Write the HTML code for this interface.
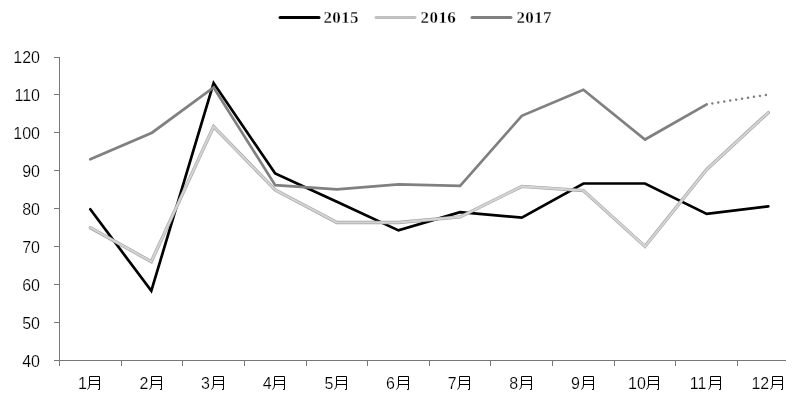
<!DOCTYPE html>
<html><head><meta charset="utf-8"><title>chart</title>
<style>
html,body{margin:0;padding:0;background:#fff;}
body{width:798px;height:406px;overflow:hidden;}
svg{display:block;will-change:transform;}
text{font-family:"Liberation Sans",sans-serif;fill:#000;stroke:#fff;stroke-width:0.18px;}
.ax{font-size:16px;}
.lg{font-family:"Liberation Serif",serif;font-weight:bold;font-size:17px;letter-spacing:0.4px;stroke-width:0.32px;}
</style></head><body>
<svg width="798" height="406" viewBox="0 0 798 406">
<defs>
<g id="yue" fill="none" stroke="#000" stroke-width="1" stroke-linecap="butt" stroke-linejoin="miter">
<path d="M2.5,0.5 H12.5 V13.5 H11 M2.5,0.5 V9 Q2.5,12 0.5,13.5 M2.5,4.5 H12.5 M2.5,8.5 H12.5"/>
</g>
</defs>

<g stroke="#777" stroke-width="1" fill="none" shape-rendering="crispEdges">
<line x1="59.5" y1="57" x2="59.5" y2="366"/>
<line x1="54" y1="360.5" x2="786" y2="360.5"/>
<line x1="54" y1="57.5" x2="60" y2="57.5"/>
<line x1="54" y1="94.5" x2="60" y2="94.5"/>
<line x1="54" y1="132.5" x2="60" y2="132.5"/>
<line x1="54" y1="170.5" x2="60" y2="170.5"/>
<line x1="54" y1="208.5" x2="60" y2="208.5"/>
<line x1="54" y1="246.5" x2="60" y2="246.5"/>
<line x1="54" y1="284.5" x2="60" y2="284.5"/>
<line x1="54" y1="322.5" x2="60" y2="322.5"/>
<line x1="121.5" y1="360" x2="121.5" y2="366"/>
<line x1="182.5" y1="360" x2="182.5" y2="366"/>
<line x1="244.5" y1="360" x2="244.5" y2="366"/>
<line x1="306.5" y1="360" x2="306.5" y2="366"/>
<line x1="367.5" y1="360" x2="367.5" y2="366"/>
<line x1="429.5" y1="360" x2="429.5" y2="366"/>
<line x1="490.5" y1="360" x2="490.5" y2="366"/>
<line x1="552.5" y1="360" x2="552.5" y2="366"/>
<line x1="614.5" y1="360" x2="614.5" y2="366"/>
<line x1="675.5" y1="360" x2="675.5" y2="366"/>
<line x1="737.5" y1="360" x2="737.5" y2="366"/>
</g>
<text class="ax" x="40" y="63" text-anchor="end">120</text>
<text class="ax" x="40" y="101" text-anchor="end">110</text>
<text class="ax" x="40" y="139" text-anchor="end">100</text>
<text class="ax" x="40" y="177" text-anchor="end">90</text>
<text class="ax" x="40" y="215" text-anchor="end">80</text>
<text class="ax" x="40" y="253" text-anchor="end">70</text>
<text class="ax" x="40" y="291" text-anchor="end">60</text>
<text class="ax" x="40" y="329" text-anchor="end">50</text>
<text class="ax" x="40" y="367" text-anchor="end">40</text>
<text class="ax" x="77.9" y="389">1</text>
<use href="#yue" x="87" y="376"/>
<text class="ax" x="139.5" y="389">2</text>
<use href="#yue" x="149" y="376"/>
<text class="ax" x="201.1" y="389">3</text>
<use href="#yue" x="211" y="376"/>
<text class="ax" x="262.8" y="389">4</text>
<use href="#yue" x="272" y="376"/>
<text class="ax" x="324.4" y="389">5</text>
<use href="#yue" x="334" y="376"/>
<text class="ax" x="386.0" y="389">6</text>
<use href="#yue" x="396" y="376"/>
<text class="ax" x="447.7" y="389">7</text>
<use href="#yue" x="457" y="376"/>
<text class="ax" x="509.3" y="389">8</text>
<use href="#yue" x="519" y="376"/>
<text class="ax" x="571.0" y="389">9</text>
<use href="#yue" x="581" y="376"/>
<text class="ax" x="628.1" y="389">10</text>
<use href="#yue" x="646" y="376"/>
<text class="ax" x="689.8" y="389">11</text>
<use href="#yue" x="708" y="376"/>
<text class="ax" x="751.4" y="389">12</text>
<use href="#yue" x="770" y="376"/>
<polyline points="90.3,209.3 151.3,290.9 213.6,83.0 275.2,173.5 336.9,201.8 398.5,230.4 460.1,212.2 521.8,217.7 583.4,183.5 645.0,183.5 706.7,213.9 768.3,206.4" fill="none" stroke="#000" stroke-width="2.7" stroke-linejoin="miter" stroke-linecap="round"/>
<polyline points="90.3,227.7 151.3,261.6 213.6,126.5 275.2,189.9 336.9,222.5 398.5,222.5 460.1,216.9 521.8,186.4 583.4,190.5 645.0,246.4 706.7,169.5 768.3,112.6" fill="none" stroke="#a2a2a2" stroke-width="3.3" stroke-linejoin="miter" stroke-linecap="round"/>
<polyline points="90.3,227.7 151.3,261.6 213.6,126.5 275.2,189.9 336.9,222.5 398.5,222.5 460.1,216.9 521.8,186.4 583.4,190.5 645.0,246.4 706.7,169.5 768.3,112.6" fill="none" stroke="#d4d4d4" stroke-width="2.1" stroke-linejoin="miter" stroke-linecap="round"/>
<polyline points="90.3,159.3 152.0,132.7 213.6,87.5 275.2,185.1 336.9,189.3 398.5,184.4 460.1,185.9 521.8,115.8 583.4,89.8 645.0,139.5 706.7,104.3" fill="none" stroke="#808080" stroke-width="2.7" stroke-linejoin="miter" stroke-linecap="round"/>
<polyline points="706.7,104.3 768.3,94.6" fill="none" stroke="#808080" stroke-width="2.5" stroke-linecap="round" stroke-dasharray="0.01 6.01" stroke-dashoffset="-5.72"/>
<g fill="none" stroke-width="3" stroke-linecap="round">
<line x1="280" y1="17.5" x2="319" y2="17.5" stroke="#000"/>
<line x1="376" y1="17.5" x2="415" y2="17.5" stroke="#c0c0c0"/>
<line x1="472" y1="17.5" x2="511" y2="17.5" stroke="#808080"/>
</g>
<text class="lg" x="323.4" y="23">2015</text>
<text class="lg" x="420.6" y="23">2016</text>
<text class="lg" x="516.4" y="23">2017</text>
</svg></body></html>
